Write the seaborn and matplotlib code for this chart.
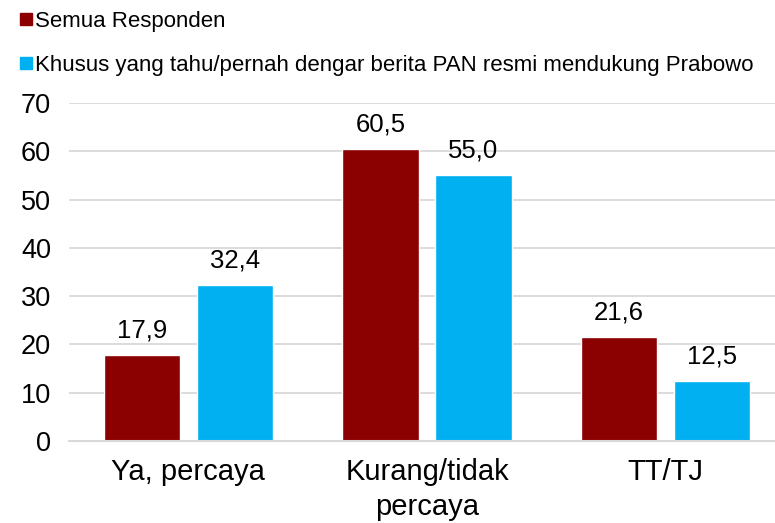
import pandas as pd
import seaborn as sns
import matplotlib.pyplot as plt
from matplotlib.lines import Line2D

# data
kategori = ['Ya, percaya', 'Kurang/tidak\npercaya', 'TT/TJ']
seri = ['Semua Responden', 'Khusus yang tahu/pernah dengar berita PAN resmi mendukung Prabowo']
semua = [17.9, 60.5, 21.6]
khusus = [32.4, 55.0, 12.5]
warna = ['#8B0000', '#00B0F0']

df = pd.DataFrame({
    'kategori': kategori * 2,
    'seri': [seri[0]] * 3 + [seri[1]] * 3,
    'nilai': semua + khusus,
})

sns.set_theme(style='white')
plt.rcParams['font.family'] = ['Liberation Sans', 'DejaVu Sans']

fig = plt.figure(figsize=(7.75, 5.23), dpi=100)
ax = fig.add_axes([69 / 775, 1 - 441 / 523, (785 - 69) / 775, 338 / 523])

sns.barplot(data=df, x='kategori', y='nilai', hue='seri', order=kategori, hue_order=seri,
            palette=warna, width=0.78, gap=0.18, saturation=1, ax=ax, legend=False)

# label angka pakai koma
for cont in ax.containers:
    ax.bar_label(cont, labels=[f'{v:.1f}'.replace('.', ',') for v in cont.datavalues],
                 padding=9, fontsize=18.5, color='#000000')

ax.set_ylim(0, 70)
ax.set_xlim(-0.5, 2.5)
ax.set_yticks(range(0, 71, 10))
ax.yaxis.grid(True, color='#D9D9D9', linewidth=1.3)
ax.set_axisbelow(True)
ax.set_xlabel('')
ax.set_ylabel('')
for s in ['left', 'right', 'top']:
    ax.spines[s].set_visible(False)
ax.spines['bottom'].set_color('#D9D9D9')
ax.spines['bottom'].set_linewidth(1.5)
ax.tick_params(axis='y', length=0, labelsize=19.5, pad=13, labelcolor='#000000')
ax.tick_params(axis='x', length=0, labelsize=21, pad=12, labelcolor='#000000')
for t in ax.get_xticklabels():
    t.set_linespacing(1.35)

# legenda
handles = [Line2D([], [], marker='s', linestyle='', markersize=9, color=c) for c in warna]
leg = fig.legend(handles, seri, loc='upper left', bbox_to_anchor=(-0.001, 1.018), frameon=False,
                 fontsize=16, handlelength=0.6, handletextpad=0.12, labelspacing=1.05)
for t in leg.get_texts():
    t.set_color('#000000')

plt.savefig('out.png', dpi=100)
